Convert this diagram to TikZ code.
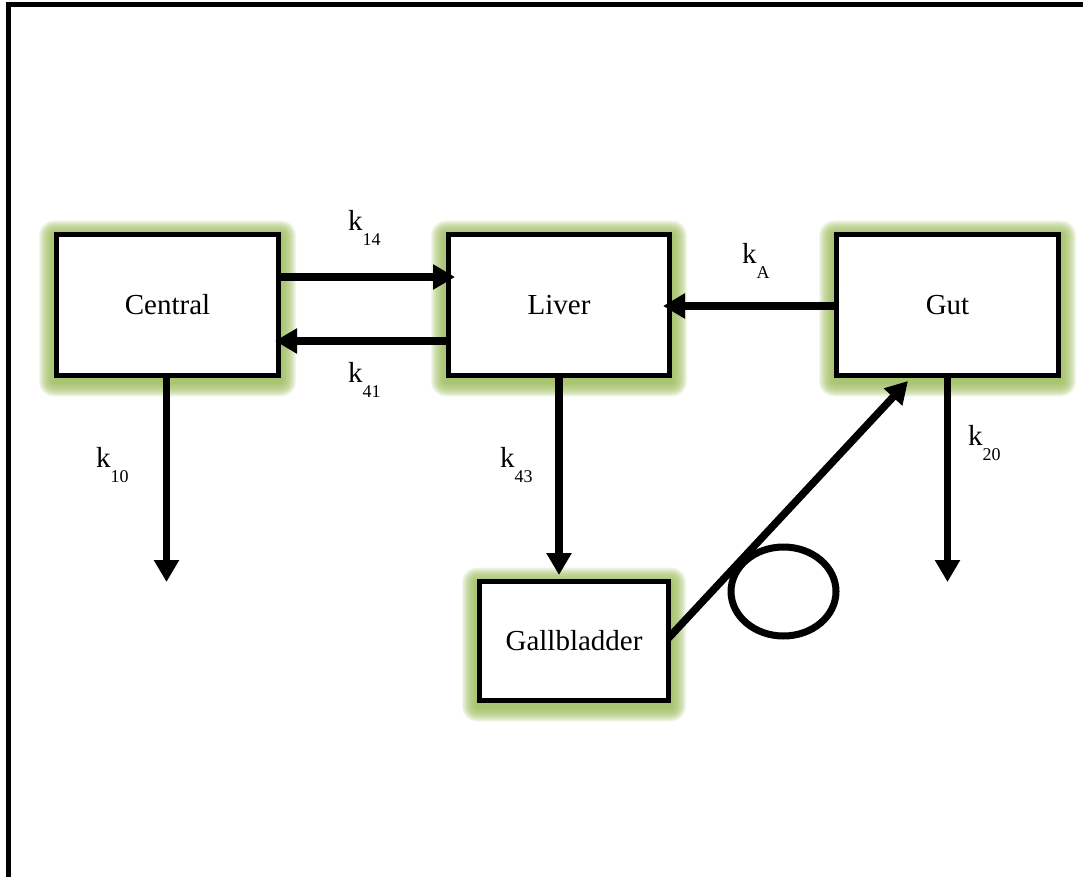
\documentclass[tikz,border=0pt]{standalone}
\usepackage{fontspec}
\setmainfont{Liberation Serif}
\usetikzlibrary{arrows.meta,shapes.geometric,backgrounds}
\definecolor{glowc}{RGB}{155,187,89}
\tikzset{
  compartment/.style={draw, line width=5pt, fill=white, inner sep=0pt, outer sep=0pt,
    font=\fontsize{29}{32}\selectfont},
  flow/.style={line width=7.5pt, -{Triangle[length=22pt,width=24pt]}},
  rate/.style={inner sep=0pt, outer sep=0pt, anchor=base west, font=\fontsize{29}{32}\selectfont},
}
% rate constant k with a lowered index
\newcommand\ratek[1]{k\raisebox{-15pt}{\fontsize{18}{18}\selectfont #1}}
% soft green halo behind a compartment
\newcommand\glowbox[1]{%
  \foreach \g [evaluate=\g as \e using \g+2.5,
               evaluate=\g as \up using \g+2.5-3.5,
               evaluate=\g as \dn using -\g-2.5-3.5] in {1,...,15}{%
    \fill[glowc, fill opacity=0.12, rounded corners=\g pt]
      ([xshift=-\e pt, yshift=\up pt]#1.north west) rectangle
      ([xshift=\e pt, yshift=\dn pt]#1.south east);}}

\begin{document}
\begin{tikzpicture}[x=1pt,y=-1pt]
  \useasboundingbox (0,0) rectangle (1083,877);

  % frame
  \draw[line width=5pt] (8,880) -- (8,5) -- (1086,5);

  % compartments
  \node[compartment, minimum width=222pt, minimum height=141pt] (central) at (167.5,305) {Central};
  \node[compartment, minimum width=221pt, minimum height=141pt] (liver) at (559,305) {Liver};
  \node[compartment, minimum width=222pt, minimum height=141pt] (gut) at (947.5,305) {Gut};
  \node[compartment, minimum width=189pt, minimum height=119pt] (gall) at (574,641) {Gallbladder};

  \begin{scope}[on background layer]
    \glowbox{central}
    \glowbox{liver}
    \glowbox{gut}
    \glowbox{gall}
  \end{scope}

  % elimination sinks
  \coordinate (out10) at (166.5,582);
  \coordinate (out20) at (947.5,582);

  % transfers
  \draw[flow] ([yshift=28pt]central.east) -- ([yshift=28pt,xshift=6.5pt]liver.west);
  \draw[flow] ([yshift=-36pt]liver.west) -- ([yshift=-36pt,xshift=-3.5pt]central.east);
  \draw[flow] ([yshift=-1pt]gut.west) -- ([yshift=-1pt,xshift=-6.5pt]liver.east);
  \draw[flow] ([xshift=-1pt]central.south) -- (out10);
  \draw[flow] (liver.south) -- ([xshift=-15pt,yshift=6.5pt]gall.north);
  \draw[flow] (gut.south) -- (out20);
  \draw[flow] ([yshift=3pt]gall.east) -- ([xshift=-39.5pt,yshift=-5.5pt]gut.south);

  % enterohepatic loop
  \node[draw, ellipse, line width=7pt, minimum width=105pt, minimum height=89pt, inner sep=0pt] (loop) at (783.5,591.5) {};

  % rate constants
  \node[rate] (l14) at (348,230) {\ratek{14}};
  \node[rate] (l41) at (348,382) {\ratek{41}};
  \node[rate] (lA)  at (742,263) {\ratek{A}};
  \node[rate] (l10) at (96,467)  {\ratek{10}};
  \node[rate] (l43) at (500,467) {\ratek{43}};
  \node[rate] (l20) at (968,445) {\ratek{20}};
\end{tikzpicture}
\end{document}
